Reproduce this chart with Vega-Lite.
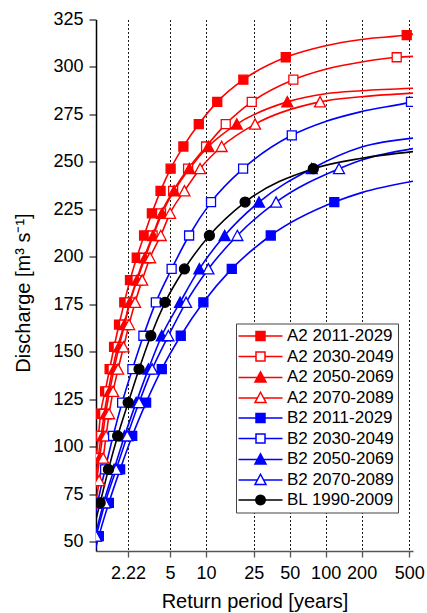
{
  "$schema": "https://vega.github.io/schema/vega-lite/v6.json",
  "width": 317,
  "height": 531.5,
  "autosize": {"type": "none"},
  "padding": {"left": 96, "top": 19.5, "right": 14, "bottom": 62},
  "background": "white",
  "config": {"view": {"stroke": null}, "font": "Liberation Sans"},
  "resolve": {"scale": {"stroke": "independent", "fill": "independent", "shape": "independent"}},
  "data": {"values": [
    {"s":"A2 2011-2029","x":1.14,"y":82.1,"k":"c"},
    {"s":"A2 2011-2029","x":1.203,"y":93.9,"k":"m"},
    {"s":"A2 2011-2029","x":1.257,"y":105.6,"k":"m"},
    {"s":"A2 2011-2029","x":1.312,"y":117.3,"k":"m"},
    {"s":"A2 2011-2029","x":1.43,"y":129.1,"k":"m"},
    {"s":"A2 2011-2029","x":1.56,"y":140.8,"k":"m"},
    {"s":"A2 2011-2029","x":1.70,"y":152.5,"k":"m"},
    {"s":"A2 2011-2029","x":1.87,"y":164.3,"k":"m"},
    {"s":"A2 2011-2029","x":2.07,"y":176,"k":"m"},
    {"s":"A2 2011-2029","x":2.31,"y":187.7,"k":"m"},
    {"s":"A2 2011-2029","x":2.63,"y":199.5,"k":"m"},
    {"s":"A2 2011-2029","x":3.03,"y":211.2,"k":"m"},
    {"s":"A2 2011-2029","x":3.52,"y":222.9,"k":"m"},
    {"s":"A2 2011-2029","x":4.16,"y":234.7,"k":"m"},
    {"s":"A2 2011-2029","x":5.05,"y":246.4,"k":"m"},
    {"s":"A2 2011-2029","x":6.46,"y":258.1,"k":"m"},
    {"s":"A2 2011-2029","x":8.69,"y":269.9,"k":"m"},
    {"s":"A2 2011-2029","x":12.4,"y":281.6,"k":"m"},
    {"s":"A2 2011-2029","x":20.5,"y":293.3,"k":"m"},
    {"s":"A2 2011-2029","x":46.4,"y":305.1,"k":"m"},
    {"s":"A2 2011-2029","x":100,"y":311.2,"k":"c"},
    {"s":"A2 2011-2029","x":200,"y":314.5,"k":"c"},
    {"s":"A2 2011-2029","x":476.6,"y":316.8,"k":"m"},
    {"s":"A2 2011-2029","x":540,"y":317.3,"k":"c"},

    {"s":"A2 2030-2049","x":1.1,"y":64,"k":"c"},
    {"s":"A2 2030-2049","x":1.191,"y":82.1,"k":"m"},
    {"s":"A2 2030-2049","x":1.25,"y":93.9,"k":"m"},
    {"s":"A2 2030-2049","x":1.325,"y":105.6,"k":"m"},
    {"s":"A2 2030-2049","x":1.404,"y":117.3,"k":"m"},
    {"s":"A2 2030-2049","x":1.516,"y":129.1,"k":"m"},
    {"s":"A2 2030-2049","x":1.652,"y":140.8,"k":"m"},
    {"s":"A2 2030-2049","x":1.82,"y":152.5,"k":"m"},
    {"s":"A2 2030-2049","x":2.06,"y":164.3,"k":"m"},
    {"s":"A2 2030-2049","x":2.29,"y":176,"k":"m"},
    {"s":"A2 2030-2049","x":2.62,"y":187.7,"k":"m"},
    {"s":"A2 2030-2049","x":3.03,"y":199.5,"k":"m"},
    {"s":"A2 2030-2049","x":3.57,"y":211.2,"k":"m"},
    {"s":"A2 2030-2049","x":4.20,"y":222.9,"k":"m"},
    {"s":"A2 2030-2049","x":5.30,"y":234.7,"k":"m"},
    {"s":"A2 2030-2049","x":7.07,"y":246.4,"k":"m"},
    {"s":"A2 2030-2049","x":10.0,"y":258.1,"k":"m"},
    {"s":"A2 2030-2049","x":14.6,"y":269.9,"k":"m"},
    {"s":"A2 2030-2049","x":24.1,"y":281.6,"k":"m"},
    {"s":"A2 2030-2049","x":53.7,"y":293.3,"k":"m"},
    {"s":"A2 2030-2049","x":100,"y":298.8,"k":"c"},
    {"s":"A2 2030-2049","x":200,"y":302.6,"k":"c"},
    {"s":"A2 2030-2049","x":393,"y":305.1,"k":"m"},
    {"s":"A2 2030-2049","x":540,"y":305.6,"k":"c"},

    {"s":"A2 2050-2069","x":1.1,"y":62,"k":"c"},
    {"s":"A2 2050-2069","x":1.214,"y":82.1,"k":"m"},
    {"s":"A2 2050-2069","x":1.287,"y":93.9,"k":"m"},
    {"s":"A2 2050-2069","x":1.363,"y":105.6,"k":"m"},
    {"s":"A2 2050-2069","x":1.444,"y":117.3,"k":"m"},
    {"s":"A2 2050-2069","x":1.56,"y":129.1,"k":"m"},
    {"s":"A2 2050-2069","x":1.70,"y":140.8,"k":"m"},
    {"s":"A2 2050-2069","x":1.87,"y":152.5,"k":"m"},
    {"s":"A2 2050-2069","x":2.08,"y":164.3,"k":"m"},
    {"s":"A2 2050-2069","x":2.31,"y":176,"k":"m"},
    {"s":"A2 2050-2069","x":2.65,"y":187.7,"k":"m"},
    {"s":"A2 2050-2069","x":3.09,"y":199.5,"k":"m"},
    {"s":"A2 2050-2069","x":3.61,"y":211.2,"k":"m"},
    {"s":"A2 2050-2069","x":4.29,"y":222.9,"k":"m"},
    {"s":"A2 2050-2069","x":5.40,"y":234.7,"k":"m"},
    {"s":"A2 2050-2069","x":7.25,"y":246.4,"k":"m"},
    {"s":"A2 2050-2069","x":10.45,"y":258.1,"k":"m"},
    {"s":"A2 2050-2069","x":18.06,"y":269.9,"k":"m"},
    {"s":"A2 2050-2069","x":47.8,"y":281.6,"k":"m"},
    {"s":"A2 2050-2069","x":100,"y":285.9,"k":"c"},
    {"s":"A2 2050-2069","x":200,"y":287.5,"k":"c"},
    {"s":"A2 2050-2069","x":540,"y":288.8,"k":"c"},

    {"s":"A2 2070-2089","x":1.12,"y":60,"k":"c"},
    {"s":"A2 2070-2089","x":1.20,"y":70.4,"k":"m"},
    {"s":"A2 2070-2089","x":1.275,"y":82.1,"k":"m"},
    {"s":"A2 2070-2089","x":1.377,"y":93.9,"k":"m"},
    {"s":"A2 2070-2089","x":1.458,"y":105.6,"k":"m"},
    {"s":"A2 2070-2089","x":1.545,"y":117.3,"k":"m"},
    {"s":"A2 2070-2089","x":1.668,"y":129.1,"k":"m"},
    {"s":"A2 2070-2089","x":1.837,"y":140.8,"k":"m"},
    {"s":"A2 2070-2089","x":2.04,"y":152.5,"k":"m"},
    {"s":"A2 2070-2089","x":2.27,"y":164.3,"k":"m"},
    {"s":"A2 2070-2089","x":2.55,"y":176,"k":"m"},
    {"s":"A2 2070-2089","x":2.92,"y":187.7,"k":"m"},
    {"s":"A2 2070-2089","x":3.40,"y":199.5,"k":"m"},
    {"s":"A2 2070-2089","x":4.18,"y":211.2,"k":"m"},
    {"s":"A2 2070-2089","x":5.0,"y":222.9,"k":"m"},
    {"s":"A2 2070-2089","x":6.59,"y":234.7,"k":"m"},
    {"s":"A2 2070-2089","x":8.91,"y":246.4,"k":"m"},
    {"s":"A2 2070-2089","x":13.5,"y":258.1,"k":"m"},
    {"s":"A2 2070-2089","x":25.7,"y":269.9,"k":"m"},
    {"s":"A2 2070-2089","x":89.8,"y":281.6,"k":"m"},
    {"s":"A2 2070-2089","x":200,"y":284.3,"k":"c"},
    {"s":"A2 2070-2089","x":540,"y":286.2,"k":"c"},

    {"s":"B2 2011-2029","x":1.07,"y":35.2,"k":"c"},
    {"s":"B2 2011-2029","x":1.267,"y":52.8,"k":"m"},
    {"s":"B2 2011-2029","x":1.537,"y":70.4,"k":"m"},
    {"s":"B2 2011-2029","x":1.91,"y":88,"k":"m"},
    {"s":"B2 2011-2029","x":2.41,"y":105.6,"k":"m"},
    {"s":"B2 2011-2029","x":3.15,"y":123.2,"k":"m"},
    {"s":"B2 2011-2029","x":4.26,"y":140.8,"k":"m"},
    {"s":"B2 2011-2029","x":6.14,"y":158.4,"k":"m"},
    {"s":"B2 2011-2029","x":9.49,"y":176,"k":"m"},
    {"s":"B2 2011-2029","x":16.4,"y":193.6,"k":"m"},
    {"s":"B2 2011-2029","x":34.75,"y":211.2,"k":"m"},
    {"s":"B2 2011-2029","x":118.2,"y":228.8,"k":"m"},
    {"s":"B2 2011-2029","x":200,"y":233.8,"k":"c"},
    {"s":"B2 2011-2029","x":540,"y":239.8,"k":"c"},

    {"s":"B2 2030-2049","x":1.09,"y":52.8,"k":"c"},
    {"s":"B2 2030-2049","x":1.238,"y":70.4,"k":"m"},
    {"s":"B2 2030-2049","x":1.43,"y":88,"k":"m"},
    {"s":"B2 2030-2049","x":1.668,"y":105.6,"k":"m"},
    {"s":"B2 2030-2049","x":1.985,"y":123.2,"k":"m"},
    {"s":"B2 2030-2049","x":2.42,"y":140.8,"k":"m"},
    {"s":"B2 2030-2049","x":2.99,"y":158.4,"k":"m"},
    {"s":"B2 2030-2049","x":3.80,"y":176,"k":"m"},
    {"s":"B2 2030-2049","x":5.15,"y":193.6,"k":"m"},
    {"s":"B2 2030-2049","x":7.21,"y":211.2,"k":"m"},
    {"s":"B2 2030-2049","x":11.0,"y":228.8,"k":"m"},
    {"s":"B2 2030-2049","x":20.4,"y":246.4,"k":"m"},
    {"s":"B2 2030-2049","x":52.1,"y":264,"k":"m"},
    {"s":"B2 2030-2049","x":100,"y":271.3,"k":"c"},
    {"s":"B2 2030-2049","x":200,"y":276.5,"k":"c"},
    {"s":"B2 2030-2049","x":517.6,"y":281.6,"k":"m"},
    {"s":"B2 2030-2049","x":540,"y":281.9,"k":"c"},

    {"s":"B2 2050-2069","x":1.1,"y":45,"k":"c"},
    {"s":"B2 2050-2069","x":1.18,"y":52.8,"k":"m"},
    {"s":"B2 2050-2069","x":1.39,"y":70.4,"k":"m"},
    {"s":"B2 2050-2069","x":1.70,"y":88,"k":"m"},
    {"s":"B2 2050-2069","x":2.08,"y":105.6,"k":"m"},
    {"s":"B2 2050-2069","x":2.60,"y":123.2,"k":"m"},
    {"s":"B2 2050-2069","x":3.29,"y":140.8,"k":"m"},
    {"s":"B2 2050-2069","x":4.26,"y":158.4,"k":"m"},
    {"s":"B2 2050-2069","x":6.06,"y":176,"k":"m"},
    {"s":"B2 2050-2069","x":8.79,"y":193.6,"k":"m"},
    {"s":"B2 2050-2069","x":14.3,"y":211.2,"k":"m"},
    {"s":"B2 2050-2069","x":27.7,"y":228.8,"k":"m"},
    {"s":"B2 2050-2069","x":76.5,"y":246.4,"k":"m"},
    {"s":"B2 2050-2069","x":200,"y":257.8,"k":"c"},
    {"s":"B2 2050-2069","x":540,"y":262.5,"k":"c"},

    {"s":"B2 2070-2089","x":1.12,"y":45.5,"k":"c"},
    {"s":"B2 2070-2089","x":1.203,"y":52.8,"k":"m"},
    {"s":"B2 2070-2089","x":1.43,"y":70.4,"k":"m"},
    {"s":"B2 2070-2089","x":1.77,"y":88,"k":"m"},
    {"s":"B2 2070-2089","x":2.19,"y":105.6,"k":"m"},
    {"s":"B2 2070-2089","x":2.75,"y":123.2,"k":"m"},
    {"s":"B2 2070-2089","x":3.54,"y":140.8,"k":"m"},
    {"s":"B2 2070-2089","x":4.84,"y":158.4,"k":"m"},
    {"s":"B2 2070-2089","x":6.80,"y":176,"k":"m"},
    {"s":"B2 2070-2089","x":10.45,"y":193.6,"k":"m"},
    {"s":"B2 2070-2089","x":18.27,"y":211.2,"k":"m"},
    {"s":"B2 2070-2089","x":38.5,"y":228.8,"k":"m"},
    {"s":"B2 2070-2089","x":129.4,"y":246.4,"k":"m"},
    {"s":"B2 2070-2089","x":200,"y":251,"k":"c"},
    {"s":"B2 2070-2089","x":540,"y":257,"k":"c"},

    {"s":"BL 1990-2009","x":1.1,"y":52,"k":"c"},
    {"s":"BL 1990-2009","x":1.30,"y":70.4,"k":"m"},
    {"s":"BL 1990-2009","x":1.525,"y":88,"k":"m"},
    {"s":"BL 1990-2009","x":1.82,"y":105.6,"k":"m"},
    {"s":"BL 1990-2009","x":2.23,"y":123.2,"k":"m"},
    {"s":"BL 1990-2009","x":2.75,"y":140.8,"k":"m"},
    {"s":"BL 1990-2009","x":3.45,"y":158.4,"k":"m"},
    {"s":"BL 1990-2009","x":4.54,"y":176,"k":"m"},
    {"s":"BL 1990-2009","x":6.59,"y":193.6,"k":"m"},
    {"s":"BL 1990-2009","x":10.66,"y":211.2,"k":"m"},
    {"s":"BL 1990-2009","x":21.2,"y":228.8,"k":"m"},
    {"s":"BL 1990-2009","x":78.9,"y":246.4,"k":"m"},
    {"s":"BL 1990-2009","x":200,"y":251.9,"k":"c"},
    {"s":"BL 1990-2009","x":540,"y":255.4,"k":"c"}
  ]},
  "layer": [
    {
      "mark": {"type": "line", "interpolate": "monotone", "clip": true, "strokeWidth": 1.6},
      "encoding": {
        "x": {"field": "x", "type": "quantitative",
          "scale": {"type": "log", "domain": [1.2, 538], "nice": false},
          "axis": {"title": "Return period [years]", "values": [2.22, 5, 10, 25, 50, 100, 200, 500], "format": "~g",
            "grid": true, "gridDash": [2, 2], "gridColor": "#1a1a1a", "gridWidth": 1,
            "domainColor": "#555555", "domainWidth": 1.5, "tickColor": "#555555", "tickSize": 6, "tickWidth": 1.3,
            "labelFontSize": 18, "labelColor": "black", "labelBaseline": "alphabetic", "labelPadding": 21,
            "labelFlush": false, "labelOverlap": false,
            "titleFontSize": 20, "titleFontWeight": "normal", "titleColor": "black", "titleBaseline": "alphabetic",
            "titleY": 56, "titleX": 158.5}},
        "y": {"field": "y", "type": "quantitative",
          "scale": {"domain": [45, 325], "nice": false, "zero": false},
          "axis": {"title": "Discharge [m³ s⁻¹]", "values": [50, 75, 100, 125, 150, 175, 200, 225, 250, 275, 300, 325],
            "grid": false, "domainColor": "black", "domainWidth": 1.5, "tickColor": "#333333", "tickSize": 7, "tickWidth": 1.3,
            "labelFontSize": 18, "labelPadding": 6, "labelColor": "black",
            "titleFontSize": 20, "titleFontWeight": "normal", "titleColor": "black", "titleBaseline": "alphabetic",
            "titleX": -67, "titleY": 273}},
        "color": {"field": "s", "type": "nominal",
          "scale": {"domain": ["A2 2011-2029", "A2 2030-2049", "A2 2050-2069", "A2 2070-2089", "B2 2011-2029", "B2 2030-2049", "B2 2050-2069", "B2 2070-2089", "BL 1990-2009"],
            "range": ["#ff0000", "#ff0000", "#ff0000", "#ff0000", "#0000ff", "#0000ff", "#0000ff", "#0000ff", "#000000"]},
          "legend": null}
      }
    },
    {
      "transform": [{"filter": "datum.k == 'm'"}],
      "mark": {"type": "point", "clip": true, "size": 100, "opacity": 1, "strokeWidth": 1.3},
      "encoding": {
        "x": {"field": "x", "type": "quantitative"},
        "y": {"field": "y", "type": "quantitative"},
        "stroke": {"field": "s", "type": "nominal",
          "scale": {"domain": ["A2 2011-2029", "A2 2030-2049", "A2 2050-2069", "A2 2070-2089", "B2 2011-2029", "B2 2030-2049", "B2 2050-2069", "B2 2070-2089", "BL 1990-2009"],
            "range": ["#ff0000", "#ff0000", "#ff0000", "#ff0000", "#0000ff", "#0000ff", "#0000ff", "#0000ff", "#000000"]},
          "legend": null},
        "fill": {"field": "s", "type": "nominal",
          "scale": {"domain": ["A2 2011-2029", "A2 2030-2049", "A2 2050-2069", "A2 2070-2089", "B2 2011-2029", "B2 2030-2049", "B2 2050-2069", "B2 2070-2089", "BL 1990-2009"],
            "range": ["#ff0000", "#ffffff", "#ff0000", "#ffffff", "#0000ff", "#ffffff", "#0000ff", "#ffffff", "#000000"]},
          "legend": null},
        "shape": {"field": "s", "type": "nominal",
          "scale": {"domain": ["A2 2011-2029", "A2 2030-2049", "A2 2050-2069", "A2 2070-2089", "B2 2011-2029", "B2 2030-2049", "B2 2050-2069", "B2 2070-2089", "BL 1990-2009"],
            "range": ["M-0.9,-0.9H0.9V0.9H-0.9Z", "M-0.9,-0.9H0.9V0.9H-0.9Z", "M0,-1.05L1.1,1L-1.1,1Z", "M0,-1.05L1.1,1L-1.1,1Z", "M-0.9,-0.9H0.9V0.9H-0.9Z", "M-0.9,-0.9H0.9V0.9H-0.9Z", "M0,-1.05L1.1,1L-1.1,1Z", "M0,-1.05L1.1,1L-1.1,1Z", "circle"]},
          "legend": null}
      }
    },
    {
      "transform": [{"filter": "datum.k == 'legend'"}],
      "mark": {"type": "point", "clip": true, "size": 100, "opacity": 1, "strokeWidth": 1.5},
      "encoding": {
        "x": {"field": "x", "type": "quantitative"},
        "y": {"field": "y", "type": "quantitative"},
        "stroke": {"field": "s", "type": "nominal",
          "scale": {"domain": ["A2 2011-2029", "A2 2030-2049", "A2 2050-2069", "A2 2070-2089", "B2 2011-2029", "B2 2030-2049", "B2 2050-2069", "B2 2070-2089", "BL 1990-2009"],
            "range": ["#ff0000", "#ff0000", "#ff0000", "#ff0000", "#0000ff", "#0000ff", "#0000ff", "#0000ff", "#000000"]},
          "legend": {"title": null, "orient": "none", "legendX": 140, "legendY": 304, "fillColor": "white", "strokeColor": "#444444",
            "padding": 4, "labelFontSize": 17, "labelColor": "black", "symbolSize": 100, "symbolStrokeWidth": 1.5, "symbolOffset": 12, "labelOffset": 18, "rowPadding": 2.5}},
        "fill": {"field": "s", "type": "nominal",
          "scale": {"domain": ["A2 2011-2029", "A2 2030-2049", "A2 2050-2069", "A2 2070-2089", "B2 2011-2029", "B2 2030-2049", "B2 2050-2069", "B2 2070-2089", "BL 1990-2009"],
            "range": ["#ff0000", "#ffffff", "#ff0000", "#ffffff", "#0000ff", "#ffffff", "#0000ff", "#ffffff", "#000000"]},
          "legend": {"title": null, "orient": "none", "legendX": 140, "legendY": 304, "fillColor": "white", "strokeColor": "#444444",
            "padding": 4, "labelFontSize": 17, "labelColor": "black", "symbolSize": 100, "symbolStrokeWidth": 1.5, "symbolOffset": 12, "labelOffset": 18, "rowPadding": 2.5}},
        "shape": {"field": "s", "type": "nominal",
          "scale": {"domain": ["A2 2011-2029", "A2 2030-2049", "A2 2050-2069", "A2 2070-2089", "B2 2011-2029", "B2 2030-2049", "B2 2050-2069", "B2 2070-2089", "BL 1990-2009"],
            "range": ["M-4.4,0H-0.9M0.9,0H4.4M-0.9,-0.9H0.9V0.9H-0.9Z", "M-4.4,0H-0.9M0.9,0H4.4M-0.9,-0.9H0.9V0.9H-0.9Z", "M-4.4,0.1H-0.62M0.62,0.1H4.4M0,-1.05L1.1,1L-1.1,1Z", "M-4.4,0.1H-0.62M0.62,0.1H4.4M0,-1.05L1.1,1L-1.1,1Z", "M-4.4,0H-0.9M0.9,0H4.4M-0.9,-0.9H0.9V0.9H-0.9Z", "M-4.4,0H-0.9M0.9,0H4.4M-0.9,-0.9H0.9V0.9H-0.9Z", "M-4.4,0.1H-0.62M0.62,0.1H4.4M0,-1.05L1.1,1L-1.1,1Z", "M-4.4,0.1H-0.62M0.62,0.1H4.4M0,-1.05L1.1,1L-1.1,1Z", "M-4.4,0H-0.95M0.95,0H4.4M0.95,0L0.878,0.364L0.672,0.672L0.364,0.878L0,0.95L-0.364,0.878L-0.672,0.672L-0.878,0.364L-0.95,0L-0.878,-0.364L-0.672,-0.672L-0.364,-0.878L0,-0.95L0.364,-0.878L0.672,-0.672L0.878,-0.364Z"]},
          "legend": {"title": null, "orient": "none", "legendX": 140, "legendY": 304, "fillColor": "white", "strokeColor": "#444444",
            "padding": 4, "labelFontSize": 17, "labelColor": "black", "symbolSize": 100, "symbolStrokeWidth": 1.5, "symbolOffset": 12, "labelOffset": 18, "rowPadding": 2.5}}
      }
    }
  ]
}
